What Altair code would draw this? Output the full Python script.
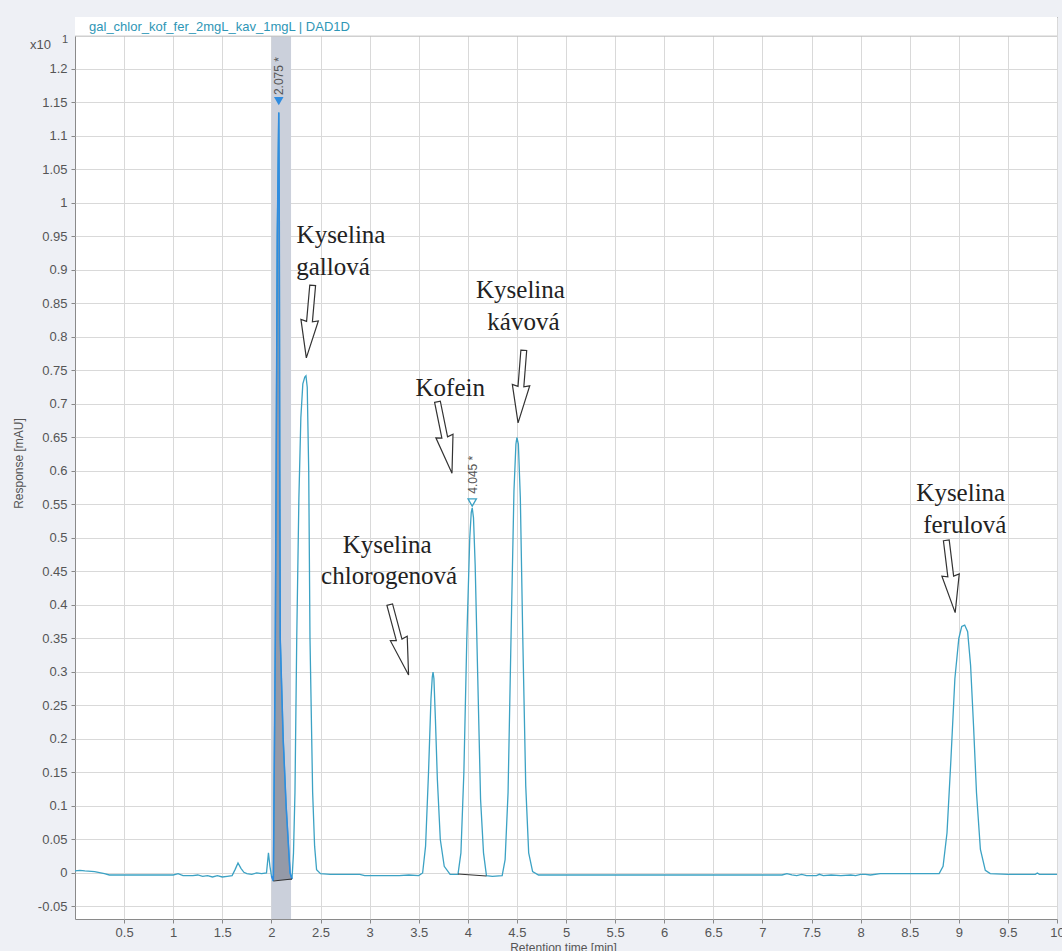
import altair as alt
import pandas as pd

# ---- chromatogram trace ----
time_min = [0.00, 0.05, 0.10, 0.20, 0.30, 0.35, 0.50, 0.70, 0.90, 1.00, 1.05, 1.10, 1.20, 1.25,
            1.30, 1.35, 1.40, 1.45, 1.50, 1.55, 1.60, 1.63, 1.66, 1.69, 1.72, 1.75, 1.80, 1.85,
            1.90, 1.95, 1.97, 1.985, 2.00, 2.02, 2.04, 2.06, 2.075, 2.08, 2.085, 2.09, 2.12, 2.15,
            2.19, 2.21, 2.225, 2.24, 2.258, 2.28, 2.30, 2.32, 2.34, 2.352, 2.365, 2.38, 2.393,
            2.42, 2.44, 2.46, 2.50, 2.60, 2.90, 2.95, 3.30, 3.40, 3.50, 3.54, 3.57, 3.60, 3.625,
            3.638, 3.646, 3.655, 3.67, 3.69, 3.72, 3.76, 3.82, 3.87, 3.90, 3.93, 3.96, 3.99, 4.02,
            4.035, 4.045, 4.058, 4.075, 4.10, 4.13, 4.16, 4.19, 4.25, 4.35, 4.38, 4.41, 4.44, 4.47,
            4.49, 4.50, 4.515, 4.535, 4.56, 4.59, 4.62, 4.66, 4.72, 5.00, 6.00, 7.00, 7.20, 7.25,
            7.30, 7.35, 7.40, 7.45, 7.55, 7.58, 7.62, 7.70, 7.80, 7.90, 7.95, 8.00, 8.05, 8.10,
            8.20, 8.50, 8.80, 8.84, 8.88, 8.92, 8.96, 9.00, 9.03, 9.06, 9.09, 9.12, 9.15, 9.18,
            9.22, 9.27, 9.32, 9.50, 9.78, 9.80, 9.82, 10.00]
response = [0.003, 0.004, 0.003, 0.002, -0.001, -0.003, -0.003, -0.003, -0.003, -0.003, -0.001,
            -0.004, -0.004, -0.003, -0.005, -0.004, -0.006, -0.004, -0.006, -0.005, -0.004, 0.005,
            0.015, 0.007, 0.001, -0.001, -0.002, 0.000, -0.001, 0.000, 0.030, 0.010, -0.004,
            -0.012, 0.350, 0.950, 1.135, 1.000, 0.600, 0.350, 0.200, 0.100, 0.000, -0.009, 0.030,
            0.120, 0.350, 0.560, 0.680, 0.730, 0.740, 0.742, 0.725, 0.600, 0.350, 0.120, 0.040,
            0.005, -0.001, -0.002, -0.002, -0.004, -0.004, -0.003, -0.004, 0.000, 0.040, 0.150,
            0.260, 0.292, 0.300, 0.290, 0.230, 0.140, 0.050, 0.010, -0.002, -0.002, -0.002, 0.030,
            0.150, 0.350, 0.500, 0.538, 0.545, 0.530, 0.460, 0.300, 0.110, 0.030, -0.004, -0.005,
            -0.004, 0.020, 0.120, 0.350, 0.570, 0.640, 0.650, 0.640, 0.560, 0.350, 0.130, 0.030,
            0.002, -0.003, -0.003, -0.003, -0.003, -0.003, -0.001, -0.003, -0.004, -0.002, -0.004,
            -0.004, -0.002, -0.004, -0.003, -0.004, -0.003, -0.004, -0.002, -0.002, -0.003,
            -0.001, -0.001, -0.001, 0.010, 0.060, 0.170, 0.290, 0.350, 0.368, 0.370, 0.360, 0.310,
            0.220, 0.120, 0.035, 0.004, -0.001, -0.002, -0.002, 0.000, -0.002, -0.002]

# ---- axes ----
x_ticks = [round(0.5 * i, 1) for i in range(1, 21)]
y_ticks = [round(-0.05 + 0.05 * i, 2) for i in range(0, 26)]

# ---- peak markers and labels ----
marker_t = [2.075, 4.045]
marker_v = [1.152, 0.553]
marker_label = ["2.075 *", "4.045 *"]
label_t = [2.077, 4.053]
label_v = [1.161, 0.566]

# ---- integration baselines ----
base_t = [2.02, 3.90]
base_v = [-0.012, -0.0015]
base_t2 = [2.21, 4.19]
base_v2 = [-0.009, -0.0045]

# ---- annotations ----
note_text = ["Kyselina", "gallová", "Kyselina", "kávová", "Kofein",
             "Kyselina", "chlorogenová", "Kyselina", "ferulová"]
note_t = [2.709, 2.628, 4.536, 4.566, 3.821, 3.179, 3.199, 9.020, 9.061]
note_v = [0.952, 0.904, 0.870, 0.822, 0.724, 0.490, 0.443, 0.567, 0.519]

arrow_t = [2.388, 4.541, 3.765, 3.301, 8.918]
arrow_v = [0.823, 0.726, 0.650, 0.348, 0.4425]
arrow_angle = [5, 4.5, 348.5, 345, 353]

Y_MIN, Y_MAX = -0.0687, 1.2776
BAR_Y = 1.249

df = pd.DataFrame({"t": time_min, "v": response})
markers = pd.DataFrame({"t": marker_t, "v": marker_v})
labels = pd.DataFrame({"t": label_t, "v": label_v, "txt": marker_label})
bases = pd.DataFrame({"t": base_t, "v": base_v, "t2": base_t2, "v2": base_v2})
notes = pd.DataFrame({"t": note_t, "v": note_v, "txt": note_text})
arrows = pd.DataFrame({"t": arrow_t, "v": arrow_v, "ang": arrow_angle})
band = pd.DataFrame({"t": [2.0], "t2": [2.2], "v": [Y_MIN], "v2": [BAR_Y]})
bar = pd.DataFrame({"t": [0.0], "t2": [10.0], "v": [BAR_Y], "v2": [Y_MAX]})
bar_title = pd.DataFrame({"t": [0.143], "v": [1.2627],
                          "txt": ["gal_chlor_kof_fer_2mgL_kav_1mgL | DAD1D"]})

xs = alt.Scale(domain=[0, 10], nice=False, zero=False)
ys = alt.Scale(domain=[Y_MIN, Y_MAX], nice=False, zero=False)

TEAL = "#3ca2c4"
BLUE = "#2f8ce0"
FONT = "Liberation Sans"

x_axis = alt.Axis(values=x_ticks, format="~g", grid=True, gridColor="#d9d9d9",
                  domain=False, tickSize=4, tickColor="#888", labelFont=FONT,
                  labelFontSize=13, labelColor="#555", labelPadding=3,
                  title="Retention time [min]", titleFont=FONT, titleFontSize=12,
                  titleFontWeight="normal", titleColor="#555", titleX=488, titleY=28,
                  titleBaseline="middle", labelFlush=False)
y_axis = alt.Axis(values=y_ticks, grid=True, gridColor="#d9d9d9", domain=False,
                  tickSize=4, tickColor="#888", labelFont=FONT, labelFontSize=13,
                  labelColor="#555", labelPadding=4,
                  labelExpr="replace(format(datum.value, '~g'), '\u2212', '-')",
                  title="Response [mAU]", titleFont=FONT, titleFontSize=12,
                  titleFontWeight="normal", titleColor="#555", titleX=-57, titleY=446,
                  titleAngle=270, titleBaseline="middle", labelFlush=False)

X = lambda: alt.X("t:Q", scale=xs, axis=x_axis, title="Retention time [min]")
Y = lambda: alt.Y("v:Q", scale=ys, axis=y_axis, title="Response [mAU]")

band_layer = alt.Chart(band).mark_rect(color="#cbd0db").encode(
    x=X(), x2="t2:Q", y=Y(), y2="v2:Q")

fill_layer = alt.Chart(df).mark_area(color="#8e94a2", opacity=0.9).encode(
    x=X(), y=Y(), y2=alt.datum(-0.0105)
).transform_filter(alt.FieldRangePredicate(field="t", range=[2.02, 2.21]))

line_layer = alt.Chart(df).mark_line(color=TEAL, strokeWidth=1.3).encode(x=X(), y=Y())

blue_layer = alt.Chart(df).mark_line(color=BLUE, strokeWidth=1.5).encode(
    x=X(), y=Y()
).transform_filter(alt.FieldRangePredicate(field="t", range=[2.0, 2.21]))

base_layer = alt.Chart(bases).mark_rule(color="#333", strokeWidth=1.2).encode(
    x=X(), x2="t2:Q", y=Y(), y2="v2:Q")

m1 = alt.Chart(markers.iloc[[0]]).mark_point(
    shape="triangle-down", filled=True, color=BLUE, size=90, opacity=1).encode(x=X(), y=Y())
m2 = alt.Chart(markers.iloc[[1]]).mark_point(
    shape="triangle-down", filled=False, color=TEAL, size=70, strokeWidth=1.3,
    opacity=1).encode(x=X(), y=Y())

label_layer = alt.Chart(labels).mark_text(
    angle=270, align="left", baseline="middle", font=FONT, fontSize=12,
    color="#555").encode(x=X(), y=Y(), text="txt:N")

ARROW = "M -0.08 -1 L 0.08 -1 L 0.08 0 L 0.24 -0.04 L 0 1 L -0.24 -0.04 L -0.08 0 Z"
arrow_layer = alt.Chart(arrows).mark_point(
    shape=ARROW, size=5300, filled=True, fill="white", stroke="#333",
    strokeWidth=1.2, opacity=1).encode(
    x=X(), y=Y(), angle=alt.Angle("ang:Q", scale=None))

note_layer = alt.Chart(notes).mark_text(
    font="Liberation Serif", fontSize=25, color="#222", baseline="middle",
    align="center").encode(x=X(), y=Y(), text="txt:N")

bar_layer = alt.Chart(bar).mark_rect(color="white").encode(
    x=X(), x2="t2:Q", y=Y(), y2="v2:Q")
bar_line = alt.Chart(bar).mark_rule(color="#b8b8b8", strokeWidth=1).encode(
    x=X(), x2="t2:Q", y=Y())
bar_text = alt.Chart(bar_title).mark_text(
    align="left", baseline="middle", font=FONT, fontSize=13, color="#2e96b6").encode(
    x=X(), y=Y(), text="txt:N")

exp_text = alt.Chart(pd.DataFrame({"txt": ["x10"]})).mark_text(
    align="left", baseline="middle", font=FONT, fontSize=13, color="#555").encode(
    x=alt.value(-45), y=alt.value(28), text="txt:N")
exp_sup = alt.Chart(pd.DataFrame({"txt": ["1"]})).mark_text(
    align="left", baseline="middle", font=FONT, fontSize=11, color="#555").encode(
    x=alt.value(-13), y=alt.value(23), text="txt:N")

chart = alt.layer(
    band_layer, fill_layer, line_layer, blue_layer, base_layer, m1, m2, label_layer,
    arrow_layer, note_layer, bar_layer, bar_line, bar_text, exp_text, exp_sup
).properties(
    width=982, height=902,
    autosize=alt.AutoSizeParams(type="none"),
    padding={"left": 75, "top": 17, "right": 5, "bottom": 32},
    background="#eef0f5"
).configure_view(fill="white", stroke="#8a8a8a", strokeWidth=1)

chart.save("out.html", embed_options={"renderer": "svg", "actions": False})
